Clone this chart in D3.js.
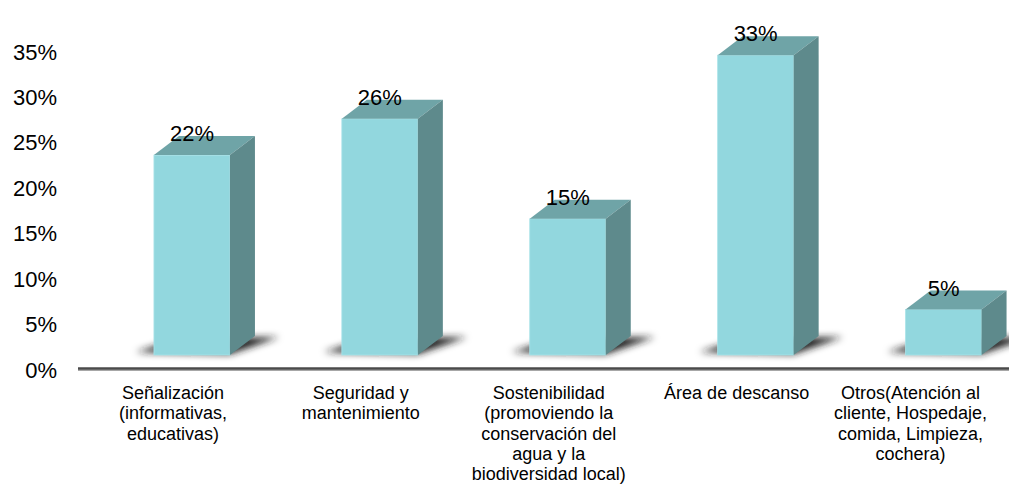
<!DOCTYPE html>
<html>
<head>
<meta charset="utf-8">
<script src="https://cdn.jsdelivr.net/npm/d3@7/dist/d3.min.js"></script>
<style>
  html, body { margin: 0; padding: 0; background: #fff; }
  svg { display: block; font-family: "Liberation Sans", Arial, sans-serif; }
</style>
</head>
<body>
<svg id="chart" width="1009" height="486"></svg>
<script>
// Category labels, one array of lines per category
const categoryLines = [
  ["Señalización", "(informativas,", "educativas)"],
  ["Seguridad y", "mantenimiento"],
  ["Sostenibilidad", "(promoviendo la", "conservación del", "agua y la", "biodiversidad local)"],
  ["Área de descanso"],
  ["Otros(Atención al", "cliente, Hospedaje,", "comida, Limpieza,", "cochera)"]
];
const categories = categoryLines.map(l => l.join(" "));
// Share of responses, in percent
const values = [22, 26, 15, 33, 5];
// Value axis ticks, in percent
const tickValues = [0, 5, 10, 15, 20, 25, 30, 35];

const W = 1009, H = 486;
const svg = d3.select("#chart");

const x = d3.scalePoint().domain(categories).range([98, 1037.5]).padding(0.5);
const y = d3.scaleLinear().domain([0, 35]).range([355, 37]);

const barW = 76;      // front face width
const depthX = 25;    // 3D depth, horizontal
const depthY = 19;    // 3D depth, vertical
const labelShift = -19;

const colors = { front: "#92d7de", top: "#6fa4a7", side: "#5e8a8c" };

// Soft floor shadow filter
const defs = svg.append("defs");
defs.append("filter").attr("id", "shadowBlur")
  .attr("x", "-50%").attr("y", "-200%").attr("width", "200%").attr("height", "500%")
  .append("feGaussianBlur").attr("stdDeviation", 3.5);

// Value axis labels
const yAxis = d3.axisLeft(y)
  .tickValues(tickValues)
  .tickSize(0)
  .tickPadding(0)
  .tickFormat(d => d + "%");
const yg = svg.append("g")
  .attr("transform", "translate(57,15)")
  .call(yAxis);
yg.select(".domain").remove();
yg.selectAll("text")
  .attr("font-family", "'Liberation Sans', Arial, sans-serif")
  .attr("font-size", 22)
  .attr("fill", "#000");

// Floor line
svg.append("line")
  .attr("x1", 78).attr("x2", W)
  .attr("y1", y(0) + 14).attr("y2", y(0) + 14)
  .attr("stroke", "#8a8a8a").attr("stroke-width", 3.5);
svg.append("line")
  .attr("x1", 78).attr("x2", W)
  .attr("y1", y(0) + 13.5).attr("y2", y(0) + 13.5)
  .attr("stroke", "#4a4a4a").attr("stroke-width", 1.8);

const bars = svg.append("g").selectAll("g.bar")
  .data(categories.map((c, i) => ({ c, v: values[i] })))
  .join("g").attr("class", "bar");

// Floor shadows
bars.append("path")
  .attr("filter", "url(#shadowBlur)")
  .attr("fill", "#1e1e1e")
  .attr("d", d => {
    const L = x(d.c) - barW / 2, R = x(d.c) + barW / 2, B = y(0);
    return `M${L - 18},${B - 3} L${R},${B - 1} L${R + depthX + 24},${B - depthY + 1}` +
           ` L${L + depthX},${B - depthY + 3} Z`;
  });

// Front faces
bars.append("rect")
  .attr("x", d => x(d.c) - barW / 2)
  .attr("y", d => y(d.v))
  .attr("width", barW)
  .attr("height", d => y(0) - y(d.v))
  .attr("fill", colors.front)
  .attr("stroke", "#a9e3e9").attr("stroke-width", 0.8);

// Top faces
bars.append("path")
  .attr("fill", colors.top)
  .attr("d", d => {
    const L = x(d.c) - barW / 2, R = x(d.c) + barW / 2, T = y(d.v);
    return `M${L},${T} L${R},${T} L${R + depthX},${T - depthY} L${L + depthX},${T - depthY} Z`;
  });

// Side faces
bars.append("path")
  .attr("fill", colors.side)
  .attr("d", d => {
    const R = x(d.c) + barW / 2, T = y(d.v), B = y(0);
    return `M${R},${T} L${R + depthX},${T - depthY} L${R + depthX},${B - depthY} L${R},${B} Z`;
  });

// Value labels
bars.append("text")
  .attr("x", d => x(d.c))
  .attr("y", d => y(d.v) - 14)
  .attr("text-anchor", "middle")
  .attr("font-size", 22)
  .attr("fill", "#000")
  .text(d => d.v + "%");

// Category labels
const catG = svg.append("g").selectAll("text.cat")
  .data(categories.map((c, i) => ({ c, lines: categoryLines[i] })))
  .join("text").attr("class", "cat")
  .attr("text-anchor", "middle")
  .attr("font-size", 18)
  .attr("fill", "#000");
catG.each(function (d) {
  const t = d3.select(this);
  d.lines.forEach((ln, j) => {
    t.append("tspan").attr("dy", j === 0 ? 0 : 20.3).text(ln);
  });
});
catG.each(function (d) {
  const t = d3.select(this);
  let maxW = 0;
  t.selectAll("tspan").each(function () { maxW = Math.max(maxW, this.getComputedTextLength()); });
  const cx = Math.min(x(d.c) + labelShift, W - 22 - maxW / 2);
  t.attr("y", 399);
  t.selectAll("tspan").attr("x", cx);
});
</script>
</body>
</html>
